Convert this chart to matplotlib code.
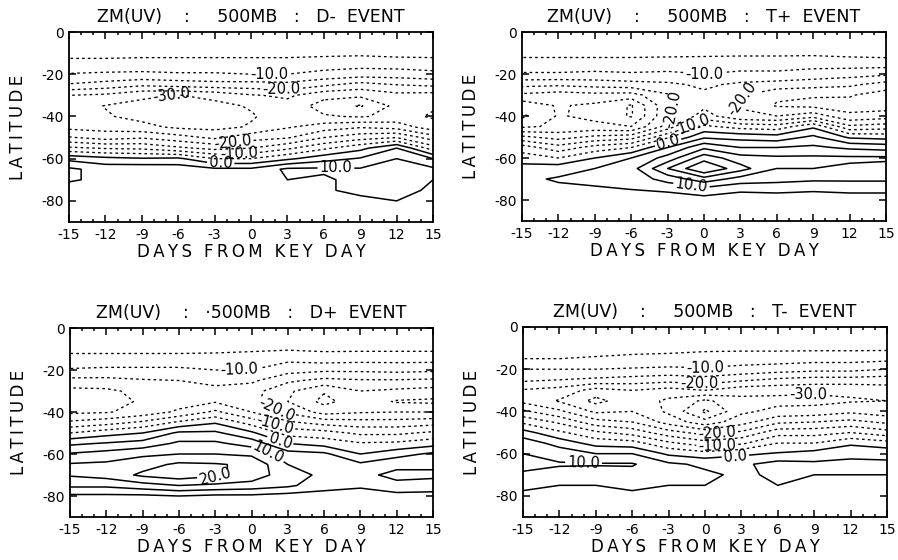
import numpy as np
import matplotlib.pyplot as plt
from matplotlib.ticker import MultipleLocator

plt.rcParams["axes.unicode_minus"] = False

# grid of the analysis: days from key day, latitude (0 -> -80)
days = [-15, -12, -9, -6, -3, 0, 3, 6, 9, 12, 15]
lats = [0, -5, -10, -15, -20, -25, -30, -35, -40, -45, -50, -55, -60, -65, -70, -75, -80]

# each inner list is one day column, latitudes 0 .. -80
d_minus = [
    [0, -1.5, -3.5, -6.5, -10.3, -15.5, -25, -27.5, -28, -26.5, -19.5, -9, 3.5, 11, 10.5, 8, 8],
    [0, -1.5, -3.5, -6.5, -10.8, -17, -26, -30.2, -29.5, -27, -22, -10.5, 1.5, 8, 9, 8, 7],
    [0, -1.5, -3.5, -7, -11, -19, -29, -31.5, -31.5, -28.5, -20.5, -11, 0.5, 8.5, 8, 7, 7],
    [0, -1.5, -3.5, -7, -10.5, -18, -30.2, -32, -32, -31, -23, -14, 1, 8, 8, 9, 8],
    [0, -1.5, -3.5, -7, -10.5, -17, -28.5, -31.5, -32, -31.5, -26, -16.5, -5, 6, 9, 8, 7],
    [0, -1.5, -3.5, -7, -10, -17, -25.5, -29.5, -30.5, -29.5, -22, -15, -5, 6, 9, 8, 7],
    [0, -1.5, -3.5, -7, -10, -16.5, -24, -27, -27.5, -25.5, -20.5, -11, -1, 11, 10, 9, 8],
    [0, -1.5, -3.8, -7.5, -11.5, -19, -28.5, -32, -29.5, -22.5, -15, -6, 3, 11, 9, 9.5, 8],
    [0, -2, -4, -8, -12.5, -22, -29, -35.5, -30.5, -20.5, -12, -1.5, 5.5, 10.5, 12, 11, 9],
    [0, -1.5, -3.5, -7.5, -12.5, -20, -26.5, -28.5, -28.5, -22, -10, 5, 10, 12, 11, 11, 10],
    [0, -1.5, -3.5, -7, -11.5, -19, -27, -29.5, -30.5, -28, -17.5, -7.5, 5, 11, 10, 9.5, 9],
]

t_plus = [
    [0, -1.5, -3.5, -7, -10.5, -18.5, -26, -33, -36, -31, -19, -7.5, -2.5, 2, 4, 4.5, 5],
    [0, -1.5, -3.5, -7, -10.5, -19, -27.5, -29.5, -29.5, -29, -22, -13, -5, 3, 5.5, 4, 3],
    [0, -1.5, -3.5, -7, -11, -18, -26.5, -31, -31.5, -28.5, -19, -8, 0, 5, 6, 4.5, 2],
    [0, -1.5, -3.5, -7, -10.5, -17, -27, -35.5, -35.5, -30, -17.5, -5, 5, 8, 7, 5, 2],
    [0, -1.5, -3.8, -7, -11, -16, -20.5, -21, -20.5, -18, -6, 5, 12, 20, 12, 6, 2],
    [0, -1.5, -4, -7, -10, -14, -16, -16, -13, -4, 4, 14, 23, 30, 18, 8, 3],
    [0, -1.5, -4, -7.5, -11, -16, -19.5, -20.5, -19, -7, 3, 10, 17, 22, 13, 6, 2],
    [0, -1.5, -4, -7.5, -11, -17, -24, -25.5, -20, -8, 2, 10, 16, 15, 12, 6, 3],
    [0, -1.5, -4, -8, -12, -18, -24.5, -26.5, -17, -1, 6, 11, 16, 15, 11, 5.5, 3],
    [0, -1.5, -3.5, -7.5, -13, -19, -24.5, -27, -24, -14, -1, 9, 16, 14, 11, 6, 3],
    [0, -1.5, -3, -7.5, -14, -22, -27.5, -27.5, -22.5, -12.5, -2, 8, 16, 13, 11, 6, 3],
]

d_plus = [
    [0, -1.5, -3.5, -7, -10.5, -16.5, -21.5, -22, -21, -14, -5, 4, 10.5, 15.5, 15.5, 11, 4],
    [0, -1.5, -3.5, -7, -11, -16.5, -21, -21.5, -20.5, -12, -2, 5.5, 12, 16, 17, 11, 4],
    [0, -1.5, -3.5, -7, -11, -15.5, -18.5, -19.5, -18, -9, 0, 7, 14, 18, 21, 13, 4],
    [0, -1.5, -3.5, -7, -11, -15, -17.5, -17.5, -14, -4, 6, 11, 15, 21, 23, 15, 5],
    [0, -1.5, -3.8, -7, -10, -14, -16, -15.5, -9, -0.5, 6, 11, 15, 20.5, 21, 14, 4],
    [0, -1.5, -4, -8, -10, -14, -18, -18.5, -15, -7, 1, 8, 14, 19, 18, 13, 4],
    [0, -1.5, -4.5, -9, -13, -19, -24, -25, -21, -14, -7, 0, 7, 10, 12, 11, 3],
    [0, -1.5, -4, -8, -14, -21.5, -29.5, -31.5, -27, -17, -8, -2, 6, 10, 9, 7, 3],
    [0, -1.5, -4, -8.5, -14, -20.5, -25, -27, -25.5, -18, -11, -4.5, 0, 6, 9, 6, 2],
    [0, -1.5, -4, -8.5, -13.5, -20.5, -26, -30.5, -25, -18, -11, -4, 3, 9, 11, 9, 3],
    [0, -1.5, -4, -8.5, -14, -21, -27, -31, -25, -17, -9, -2, 6, 9, 11, 8, 3],
]

t_minus = [
    [0, -1.5, -3, -5, -10, -14, -20.5, -21.5, -14, -6, 2, 8, 10, 12, 9, 6, 4],
    [0, -1.5, -3, -5, -10, -15, -22, -25.5, -19, -11, -4, 3, 8, 10.5, 8, 5, 4],
    [0, -1.5, -3, -5.5, -10, -16, -27, -31.5, -26, -18, -9, -2, 5, 10.5, 7, 5, 3],
    [0, -1.5, -3.5, -6, -10.5, -17, -25, -27, -25, -20, -12, -3, 5, 10.5, 8, 6, 4],
    [0, -1.5, -3.5, -6.5, -11, -18, -27, -31, -31, -27, -18, -9, -1, 6, 7, 5, 3],
    [0, -1.5, -4, -7, -10.5, -17, -25, -36, -41, -33, -22, -13, -3, 4, 6, 5, 3],
    [0, -1.5, -4, -7.5, -11.5, -19, -28, -31.5, -31, -27, -19, -11, -1, 4, 4, 5, 3],
    [0, -1.5, -4, -7.5, -12.5, -21, -28.5, -31.5, -28.5, -21, -12, -5, 0.5, 7, 6, 5, 3],
    [0, -1.5, -4, -8, -13.5, -22, -29, -31.5, -28, -20, -12, -5, 2, 6, 5, 4, 3],
    [0, -1.5, -4, -8, -13.5, -22, -29, -30.5, -26, -18.5, -10, -1, 4, 6, 5, 4, 3],
    [0, -1.5, -4, -8.5, -15, -22.5, -27.5, -30, -28, -21, -13, -3, 3.5, 6, 5, 4, 3],
]

titles = [
    "ZM(UV)    :     500MB   :   D-  EVENT",
    "ZM(UV)    :     500MB   :   T+  EVENT",
    "ZM(UV)    :   \u00b7500MB   :   D+  EVENT",
    "ZM(UV)    :     500MB   :   T-  EVENT",
]
x_title = "DAYS FROM KEY DAY"
y_title = "LATITUDE"

levels = list(range(-40, 35, 5))
label_levels = [-30, -20, -10, 0, 10, 20]

# where the contour labels sit (days, latitude)
label_spots = [
    [(1.5, -20), (2.5, -26.5), (-6.5, -31.5), (-1.5, -53), (-1.0, -57.5), (-2.5, -62.5), (7, -64)],
    [(0, -19.5), (-3, -36), (3.5, -33), (-1, -45), (-3, -52), (-1, -72)],
    [(-1, -19), (2, -39), (2, -45), (2.5, -52), (1.5, -58), (-3, -70)],
    [(0, -19.5), (-0.5, -27), (8.5, -32.5), (1, -51), (1, -55.5), (2.5, -61), (-10, -62.5)],
]

# axes rectangles in pixels: left, top, right, bottom
boxes = [(69, 32, 433, 222), (522, 32, 886, 221), (70, 328, 433, 517), (523, 327, 887, 517)]


def spaced(s):
    # plotter lettering: a thin space between all characters
    return "\u2009".join(s)


def contour_set(ax, z, levs):
    styles = ["solid" if lv >= 0 else (0, (2.0, 2.4)) for lv in levs]
    widths = [1.1 if lv >= 0 else 0.95 for lv in levs]
    return ax.contour(days, lats, z, levels=levs, colors="black",
                      linestyles=styles, linewidths=widths)


def draw_panel(ax, field, title, spots):
    z = np.array(field).T
    plain = [lv for lv in levels if lv not in label_levels]
    contour_set(ax, z, plain)
    cs = contour_set(ax, z, label_levels)
    ax.clabel(cs, manual=spots, fmt="%.1f", fontsize=10.5,
              inline=True, inline_spacing=2)

    ax.set_xlim(-15, 15)
    ax.set_ylim(-90, 0)
    ax.set_xticks(range(-15, 16, 3))
    ax.xaxis.set_minor_locator(MultipleLocator(1))
    ax.set_yticks([-80, -60, -40, -20, 0])
    ax.tick_params(which="both", direction="in", top=True, right=True,
                   labelsize=10, width=1.1)
    ax.tick_params(which="major", length=5, pad=4)
    ax.tick_params(which="minor", length=2.5)
    for sp in ax.spines.values():
        sp.set_linewidth(1.3)

    ax.set_title(title, fontsize=12.5, pad=7)
    ax.set_xlabel(spaced(x_title), fontsize=12, labelpad=1)
    ax.set_ylabel(spaced(y_title), fontsize=12, labelpad=10)


def main():
    fig = plt.figure(figsize=(8.98, 5.6), dpi=100)
    fields = [d_minus, t_plus, d_plus, t_minus]
    for field, title, spots, (l, t, r, b) in zip(fields, titles, label_spots, boxes):
        ax = fig.add_axes([l / 898, 1 - b / 560, (r - l) / 898, (b - t) / 560])
        draw_panel(ax, field, title, spots)
    fig.savefig("out.png", dpi=100)


if __name__ == "__main__":
    main()
